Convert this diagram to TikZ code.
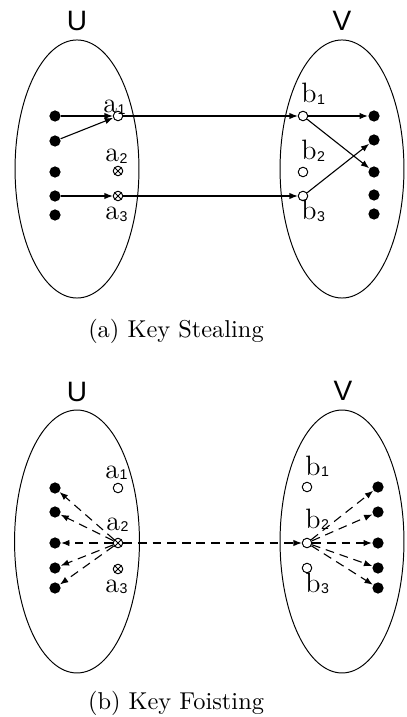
\documentclass[tikz,border=0pt]{standalone}
\usepackage{fontspec}
\newfontfamily\sansf{Liberation Sans}
\usetikzlibrary{arrows.meta,shapes.geometric}
\newcommand{\subf}{\sansf\fontsize{5.8}{6}\selectfont}
\newcommand{\lab}[2]{#1\kern0.2pt\raisebox{-0.6pt}{\subf #2}}
\tikzset{
  dotnode/.style={circle, fill=black, inner sep=0pt, minimum size=4.6pt},
  ocirc/.style={circle, draw, fill=white, inner sep=0pt, minimum size=3.9pt, line width=0.4pt},
  oxnode/.style={ocirc, path picture={
      \draw[line width=0.35pt] (path picture bounding box.center) ++(45:2.2pt) -- ++(225:4.4pt);
      \draw[line width=0.35pt] (path picture bounding box.center) ++(135:2.2pt) -- ++(-45:4.4pt);}},
  lbl/.style={inner sep=0pt, anchor=base west, font=\fontsize{11.5}{12}\selectfont},
  setlbl/.style={inner sep=0pt, font=\sansf\fontsize{11.5}{12}\selectfont},
  setell/.style={ellipse, draw, line width=0.4pt, inner sep=0pt},
  arr/.style={-{Latex[length=3.4pt,width=2.6pt]}, line width=0.45pt},
  darr/.style={arr, dash pattern=on 3.6pt off 2.4pt},
  captext/.style={inner sep=0pt, anchor=base, font=\fontsize{10}{12}\selectfont}
}
\begin{document}
\begin{tikzpicture}[x=0.41pt,y=-0.41pt]
\useasboundingbox (0,0) rectangle (406,717);
% ---------- (a) Key Stealing ----------
\node[setell, minimum width=50.8pt, minimum height=105.8pt] (EU1) at (77,169) {};
\node[setell, minimum width=50.8pt, minimum height=105.8pt] (EV1) at (342,169) {};
\node[setlbl] (U1) at (77,21) {U};
\node[setlbl] (V1) at (342,21) {V};
\node[dotnode] (L11) at (55,116) {};
\node[dotnode] (L12) at (55,141) {};
\node[dotnode] (L13) at (55,172) {};
\node[dotnode] (L14) at (55,196) {};
\node[dotnode] (L15) at (55,215) {};
\node[ocirc] (a11) at (118,116) {};
\node[oxnode] (a12) at (118,171) {};
\node[oxnode] (a13) at (118,196) {};
\node[ocirc] (b11) at (303,116) {};
\node[ocirc] (b12) at (303,172) {};
\node[ocirc] (b13) at (303,196) {};
\node[dotnode] (R11) at (374,116) {};
\node[dotnode] (R12) at (374,140) {};
\node[dotnode] (R13) at (374,172) {};
\node[dotnode] (R14) at (374,195) {};
\node[dotnode] (R15) at (374,214) {};
\node[lbl] (la11) at (103,113) {\lab{a}{1}};
\node[lbl] (la12) at (105,162) {\lab{a}{2}};
\node[lbl] (la13) at (105,220) {\lab{a}{3}};
\node[lbl] (lb11) at (301,103) {\lab{b}{1}};
\node[lbl] (lb12) at (301,160) {\lab{b}{2}};
\node[lbl] (lb13) at (301,220) {\lab{b}{3}};
\draw[arr] (L11) -- (a11);
\draw[arr] (L12) -- (a11);
\draw[arr] (L14) -- (a13);
\draw[arr] (a11) -- (b11);
\draw[arr] (a13) -- (b13);
\draw[arr] (b11) -- (R11);
\draw[arr] (b11) -- (R13);
\draw[arr] (b13) -- (R12);
\node[captext] (capa) at (176,338) {(a) Key Stealing};
% ---------- (b) Key Foisting ----------
\node[setell, minimum width=51.2pt, minimum height=107.8pt] (EU2) at (77,541.5) {};
\node[setell, minimum width=50.8pt, minimum height=107.8pt] (EV2) at (342,541.5) {};
\node[setlbl] (U2) at (77,392) {U};
\node[setlbl] (V2) at (343,391) {V};
\node[dotnode] (L21) at (55,488) {};
\node[dotnode] (L22) at (55,512) {};
\node[dotnode] (L23) at (55,543) {};
\node[dotnode] (L24) at (55,568) {};
\node[dotnode] (L25) at (55,588) {};
\node[ocirc] (a21) at (118,488) {};
\node[oxnode] (a22) at (118,543) {};
\node[oxnode] (a23) at (118,569) {};
\node[ocirc] (b21) at (307,487) {};
\node[ocirc] (b22) at (307,543) {};
\node[ocirc] (b23) at (307,568) {};
\node[dotnode] (R21) at (378,487) {};
\node[dotnode] (R22) at (378,512) {};
\node[dotnode] (R23) at (378,543) {};
\node[dotnode] (R24) at (378,568) {};
\node[dotnode] (R25) at (378,588) {};
\node[lbl] (la21) at (105,478) {\lab{a}{1}};
\node[lbl] (la22) at (106,530) {\lab{a}{2}};
\node[lbl] (la23) at (105,592) {\lab{a}{3}};
\node[lbl] (lb21) at (305,475) {\lab{b}{1}};
\node[lbl] (lb22) at (305,528) {\lab{b}{2}};
\node[lbl] (lb23) at (305,592) {\lab{b}{3}};
\foreach \i in {1,...,5} {
  \draw[darr] (a22) -- (L2\i);
  \draw[darr] (b22) -- (R2\i);
}
\draw[darr] (a22) -- (b22);
\node[captext] (capb) at (176,709) {(b) Key Foisting};
\end{tikzpicture}
\end{document}
